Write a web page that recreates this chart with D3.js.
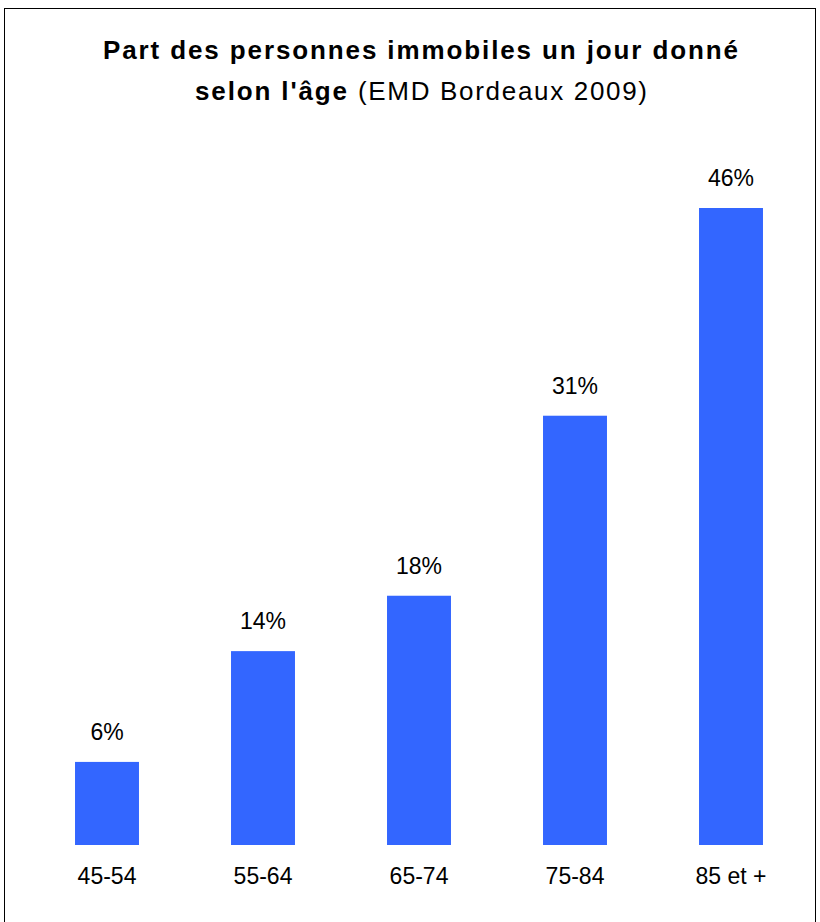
<!DOCTYPE html>
<html>
<head>
<meta charset="utf-8">
<script src="https://cdn.jsdelivr.net/npm/d3@7"></script>
<style>
  html, body { margin: 0; padding: 0; background: #fff; }
  svg { display: block; font-family: "Liberation Sans", Arial, sans-serif; }
</style>
</head>
<body>
<svg id="chart" width="820" height="922"></svg>
<script>
// Age groups and share of people who made no trip on a given day (%)
const categories = ["45-54", "55-64", "65-74", "75-84", "85 et +"];
const values = [6, 14, 18, 31, 46];
const valueLabels = ["6%", "14%", "18%", "31%", "46%"];

const svg = d3.select("#chart");

// Outer frame
svg.append("rect")
  .attr("x", 4.5).attr("y", 8.5)
  .attr("width", 811).attr("height", 930)
  .attr("fill", "#fff")
  .attr("stroke", "#000").attr("stroke-width", 1);

// Title, spread out to fixed widths
const titlePieces = [
  { text: "Part des personnes immobiles un jour donné", x: 103, y: 59, w: 635, bold: true, size: 26 },
  { text: "selon l'âge", x: 195, y: 100, w: 152, bold: true, size: 26 },
  { text: "(EMD Bordeaux 2009)", x: 358, y: 100, w: 289, bold: false, size: 26 }
];
svg.append("g").selectAll("text")
  .data(titlePieces)
  .join("text")
  .attr("x", d => d.x)
  .attr("y", d => d.y)
  .attr("font-size", d => d.size)
  .attr("font-weight", d => d.bold ? "bold" : "normal")
  .attr("textLength", d => d.w)
  .attr("lengthAdjust", "spacing")
  .attr("fill", "#000")
  .text(d => d.text);

// Scales
const x = d3.scaleBand()
  .domain(categories)
  .range([29, 809])
  .paddingInner(0.59)
  .paddingOuter(0.295);

const y = d3.scaleLinear()
  .domain([0, 46])
  .range([845, 208]);

// Bars
svg.append("g").selectAll("rect")
  .data(values)
  .join("rect")
  .attr("x", (d, i) => x(categories[i]))
  .attr("y", d => y(d))
  .attr("width", x.bandwidth())
  .attr("height", d => y(0) - y(d))
  .attr("fill", "#3366FF");

// Value labels
svg.append("g").selectAll("text")
  .data(values)
  .join("text")
  .attr("x", (d, i) => x(categories[i]) + x.bandwidth() / 2)
  .attr("y", d => y(d) - 22)
  .attr("text-anchor", "middle")
  .attr("font-size", 23)
  .attr("fill", "#000")
  .text((d, i) => valueLabels[i]);

// Category axis (labels only)
const axis = d3.axisBottom(x).tickSize(0).tickPadding(0);
const gx = svg.append("g")
  .attr("transform", `translate(0, 868)`)
  .call(axis);
gx.select(".domain").remove();
gx.selectAll("text")
  .attr("font-size", 23)
  .attr("font-family", "'Liberation Sans', Arial, sans-serif")
  .attr("fill", "#000");
</script>
</body>
</html>
